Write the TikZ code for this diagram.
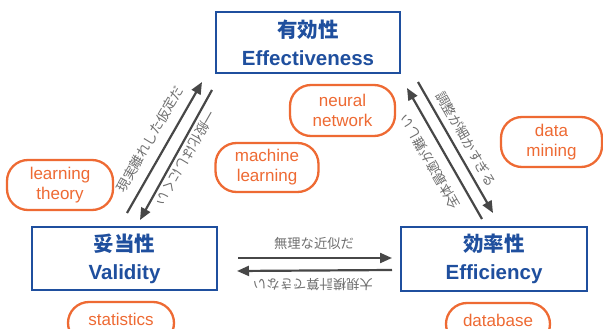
\documentclass[tikz,border=0pt]{standalone}
\usepackage{fontspec}
\setmainfont{Liberation Sans}
\newfontfamily\jp{Noto Sans CJK JP}
\newfontfamily\jpb{Noto Sans CJK JP Bold}
\usetikzlibrary{arrows.meta}
\definecolor{boxblue}{HTML}{1F4F9E}
\definecolor{tagorange}{HTML}{EE6A33}
\definecolor{arrgray}{HTML}{474747}
\definecolor{lblgray}{HTML}{6E6E6E}
\begin{document}
\begin{tikzpicture}[x=1pt,y=-1pt,
  bluebox/.style={draw=boxblue, line width=2.8pt, fill=white, text=boxblue, align=center, inner sep=0pt, font=\fontsize{20.5}{28}\selectfont\bfseries},
  tagbox/.style={draw=tagorange, line width=2.3pt, rounded corners=21pt, fill=white, text=tagorange, align=center, inner sep=0pt, font=\fontsize{17}{20}\selectfont},
  arr/.style={draw=arrgray, line width=2.2pt, -{Triangle[length=12pt,width=10pt]}},
  lbl/.style={text=lblgray, font=\jp\fontsize{13.3}{15}\selectfont, inner sep=0pt}]
\useasboundingbox (0,0) rectangle (603,329);
\clip (0,0) rectangle (603,329);
% main boxes
\node[bluebox, minimum width=184pt, minimum height=61pt] (eff) at (308,42.5) {{\jpb 有効性}\\Effectiveness};
\node[bluebox, minimum width=185pt, minimum height=63pt] (val) at (124.5,258.5) {{\jpb 妥当性}\\Validity};
\node[bluebox, minimum width=186pt, minimum height=64pt] (effi) at (494,259) {{\jpb 効率性}\\Efficiency};
% tags
\node[tagbox, minimum width=106pt, minimum height=50pt] (lt) at (60,185) {learning\\theory};
\node[tagbox, minimum width=103pt, minimum height=49pt] (ml) at (267,167.5) {machine\\learning};
\node[tagbox, minimum width=105pt, minimum height=51pt] (nn) at (342.5,110.5) {neural\\network};
\node[tagbox, minimum width=101pt, minimum height=50pt] (dm) at (551.5,142) {data\\mining};
\node[tagbox, minimum width=106pt, minimum height=42pt, text depth=8pt] (st) at (121,323) {statistics};
\node[tagbox, minimum width=104pt, minimum height=42pt, text depth=8pt] (db) at (498,324) {database};
% arrow end points
\coordinate (a1) at (127,213); \coordinate (a2) at (202,82);
\coordinate (b1) at (212,90);  \coordinate (b2) at (140,220);
\coordinate (c1) at (482,219); \coordinate (c2) at (407,88);
\coordinate (d1) at (418,82);  \coordinate (d2) at (493,213);
\coordinate (e1) at (238,258); \coordinate (e2) at (392,258);
\coordinate (f1) at (392,270); \coordinate (f2) at (237,271);
\draw[arr] (a1) -- (a2);
\draw[arr] (b1) -- (b2);
\draw[arr] (c1) -- (c2);
\draw[arr] (d1) -- (d2);
\draw[arr] (e1) -- (e2);
\draw[arr] (f1) -- (f2);
% labels
\node[lbl, rotate=60.2] (la) at (150,139) {現実離れした仮定だ};
\node[lbl, rotate=-119.8] (lb) at (186,158) {一般化はしにくい};
\node[lbl, rotate=119.8] (lc) at (430,162) {全体最適が難しい};
\node[lbl, rotate=-60.2] (ld) at (466,139) {調整が細かすぎる};
\node[lbl] (le) at (314,243) {無理な近似だ};
\node[lbl, rotate=180] (lf) at (313,285) {大規模計算できない};
\end{tikzpicture}
\end{document}
